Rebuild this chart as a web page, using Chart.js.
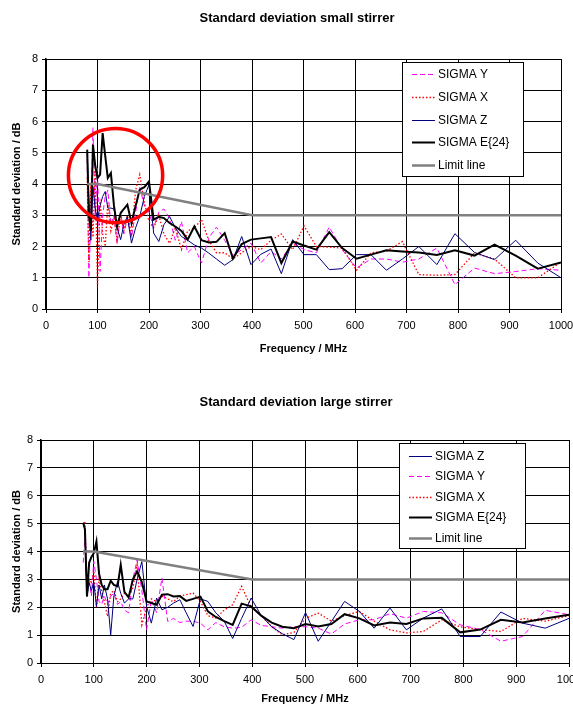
<!DOCTYPE html>
<html><head><meta charset="utf-8">
<script src="https://cdn.jsdelivr.net/npm/chart.js@4.4.0/dist/chart.umd.min.js"></script>
<style>
html,body{margin:0;padding:0;background:#fff;width:573px;height:706px;overflow:hidden;}
.box{position:absolute;left:0;width:573px;}
canvas{display:block;}
</style></head><body>
<div class="box" style="top:0;height:365px"><canvas id="c1" width="573" height="365"></canvas></div>
<div class="box" style="top:365px;height:341px"><canvas id="c2" width="573" height="341"></canvas></div>
<script>
// ---- data ----
const freqMHz = [80,83.2,87.1,91.2,95.5,100,105,110,115,120,126,132,138,145,151,158,166,174,182,191,200,209,219,229,240,251,263,275,288,302,316,331,347,363,380,398,417,437,457,479,501,525,550,575,603,631,661,692,724,759,794,832,871,912,955,1000];

const smallSigmaY = [4.8,1.0,2.8,5.8,3.0, 4.5,1.2,3.0,3.6,3.8, 2.7,3.0,2.1,3.1,2.4, 2.9,2.3,3.1,3.9,3.3, 3.1,2.6,3.1,3.2,2.9, 2.2,2.8,1.8,2.0,1.47, 2.27,2.62,2.2,1.71,1.9, 2.11,1.47,1.84,1.6,2.11, 1.9,1.8,2.62,1.9,1.31, 1.6,1.6,1.5,1.6,1.95, 0.78,1.31,1.13,1.2,1.29, 1.24];
const smallSigmaX = [4.2,1.5,4.0,2.3,4.5, 0.7,3.5,2.4,2.0,3.4, 2.5,2.9,2.2,3.0,2.5, 3.0,2.4,3.8,4.3,3.4, 2.8,2.6,3.0,2.4,2.1, 2.6,1.9,2.5,2.6,2.86, 2.2,1.8,1.8,1.6,1.8, 2.0,1.9,2.2,2.4,1.9, 2.66,2.0,1.98,1.95,1.24, 1.8,1.85,2.16,1.1,1.08, 1.1,1.79,1.6,1.0,1.0, 1.5];
const smallSigmaZ = [5.0,3.5,2.2,3.92,3.2, 2.86,3.3,3.6,3.76,3.23, 3.23,3.2,2.6,2.22,2.7, 2.96,2.11,2.6,2.96,3.6, 3.98,2.43,2.16,2.7,2.96, 2.6,2.32,2.2,2.05,1.95, 1.79,1.6,1.4,1.58,2.32, 1.42,1.75,1.92,1.13,2.22, 1.74,1.74,1.26,1.29,1.74, 1.74,1.24,1.6,2.0,1.42, 2.41,1.81,1.58,2.2,1.47, 1.0];
const smallSigmaE = [5.1,3.0,2.5,5.26,4.6, 4.19,4.3,5.63,4.9,4.19, 4.35,3.3,2.64,3.07,3.2, 3.34,2.75,3.3,3.82,3.9, 4.08,2.86,2.95,2.91,2.75, 2.64,2.5,2.22,2.64,2.2, 2.13,2.15,2.43,1.61,2.08, 2.22,2.26,2.3,1.47,2.16, 2.03,1.9,2.46,1.95,1.61, 1.74,1.88,1.84,1.81,1.73, 1.88,1.71,2.06,1.71,1.29, 1.49];

const largeSigmaZ = [5.0,4.8,2.39,2.87,2.6, 2.9,2.03,2.8,2.3,2.8, 2.3,1.01,2.4,2.92,2.5, 2.15,2.3,2.3,3.0,3.64, 2.03,1.43,2.33,1.91,2.0, 2.15,2.27,1.8,1.31,2.3, 2.21,1.8,1.5,0.88,1.6, 2.33,1.7,1.3,1.05,0.84, 1.81,0.78,1.49,2.21,1.85, 1.25,1.97,1.19,1.61,1.94, 0.95,0.95,1.83,1.43,1.25, 1.6];
const largeSigmaY = [3.6,4.5,2.5,3.0,2.4, 3.64,3.0,2.2,2.1,2.4, 2.1,2.4,2.5,2.1,2.2, 1.9,1.8,3.0,3.7,2.6, 1.19,2.27,1.8,3.05,1.49, 1.6,1.45,1.5,1.5,1.43, 1.19,1.45,1.3,1.25,1.28, 1.55,1.35,1.3,1.25,1.3, 1.3,1.25,1.04,1.4,1.55, 1.55,1.77,1.61,1.85,1.8, 1.37,1.2,0.78,0.95,1.89, 1.73];
const largeSigmaX = [5.0,5.08,2.5,3.0,2.9, 3.3,2.0,3.0,2.6,2.2, 1.67,2.5,2.6,2.2,2.3, 2.5,2.4,2.7,3.52,1.37, 2.0,2.3,2.2,2.4,2.3, 2.2,2.4,2.45,2.51,2.2, 1.7,1.61,1.9,2.09,2.75, 2.0,1.7,1.3,1.01,1.1, 1.6,1.79,1.5,1.7,1.85, 1.5,1.19,1.08,1.13,1.55, 1.3,1.2,1.13,1.6,1.5, 1.7];
const largeSigmaE = [5.02,4.8,2.39,3.6,3.8, 3.94,4.36,3.2,2.8,2.65, 2.65,2.95,2.8,2.75,3.52, 2.55,2.35,3.0,3.28,2.9, 2.21,2.15,2.09,2.45,2.47, 2.39,2.4,2.23,2.3,2.38, 1.85,1.65,1.5,1.37,2.13, 2.03,1.7,1.45,1.3,1.25, 1.4,1.31,1.4,1.75,1.6, 1.35,1.45,1.4,1.6,1.62, 1.1,1.2,1.55,1.45,1.6, 1.73];

const limitFreq = [80,100,400,1000];
const limitValues = [4,4,3,3];

const xTickLabels = [0,100,200,300,400,500,600,700,800,900,1000];
const yTickLabels = [0,1,2,3,4,5,6,7,8];

// ---- styles ----
const FONT = '"Liberation Sans", Arial, sans-serif';
const STY = {
  Y: {label:'SIGMA Y', borderColor:'#FF00FF', borderWidth:1, borderDash:[5,3]},
  X: {label:'SIGMA X', borderColor:'#FF0000', borderWidth:1.3, borderDash:[1.5,2]},
  Z: {label:'SIGMA Z', borderColor:'#000080', borderWidth:1},
  E: {label:'SIGMA E{24}', borderColor:'#000000', borderWidth:2},
  L: {label:'Limit line', borderColor:'#808080', borderWidth:2.5}
};
const ORDER = {L:0, E:1, Z:2, X:3, Y:4};

function series(key, xs, ys){
  return Object.assign({
    data: xs.map((f,i)=>({x:f, y:ys[i]})),
    pointRadius:0, pointHoverRadius:0, tension:0, fill:false,
    order: ORDER[key]
  }, STY[key]);
}

const titlePlugin = {
  id:'plotTitle',
  afterDraw(chart, args, o){
    const ctx = chart.ctx; ctx.save();
    ctx.font = 'bold 13px ' + FONT; ctx.fillStyle = '#000';
    ctx.textAlign = 'center'; ctx.textBaseline = 'middle';
    ctx.fillText(o.text, o.cx, o.cy); ctx.restore();
  }
};
const boxLegend = {
  id:'boxLegend',
  afterDatasetsDraw(chart, args, o){
    const ctx = chart.ctx; ctx.save();
    ctx.fillStyle = '#fff'; ctx.fillRect(o.x, o.y, o.w, o.h);
    ctx.strokeStyle = '#000'; ctx.lineWidth = 1; ctx.setLineDash([]);
    ctx.strokeRect(Math.round(o.x)+0.5, Math.round(o.y)+0.5, o.w, o.h);
    chart.data.datasets.forEach((ds,i)=>{
      const ry = Math.round(o.y + o.first + i*o.row) + 0.5;
      ctx.beginPath(); ctx.setLineDash(ds.borderDash || []);
      ctx.strokeStyle = ds.borderColor; ctx.lineWidth = ds.borderWidth;
      ctx.moveTo(o.x+10, ry); ctx.lineTo(o.x+33, ry); ctx.stroke();
      ctx.setLineDash([]);
      ctx.fillStyle = '#000'; ctx.font = '12px ' + FONT;
      ctx.textAlign = 'left'; ctx.textBaseline = 'middle';
      ctx.fillText(ds.label, o.x+36, ry);
    });
    ctx.restore();
  }
};
const circlePlugin = {
  id:'ring',
  afterDraw(chart, args, o){
    if(!o || !o.on) return;
    const xs = chart.scales.x, ys = chart.scales.y, ctx = chart.ctx;
    const cx = xs.getPixelForValue(o.f), cy = ys.getPixelForValue(o.v);
    const r = xs.getPixelForValue(o.f + o.rMHz) - cx;
    ctx.save(); ctx.beginPath(); ctx.strokeStyle = '#FF0000'; ctx.lineWidth = 3.5;
    ctx.arc(cx, cy, r, 0, Math.PI*2); ctx.stroke(); ctx.restore();
  }
};

function makeChart(id, datasets, cfg){
  return new Chart(document.getElementById(id), {
    type:'line',
    data:{datasets},
    plugins:[boxLegend, titlePlugin, circlePlugin],
    options:{
      responsive:false, animation:false, events:[],
      layout:{padding:cfg.pad},
      plugins:{
        legend:{display:false}, tooltip:{enabled:false},
        plotTitle:cfg.title, boxLegend:cfg.legend, ring:cfg.ring
      },
      scales:{
        x:{
          type:'linear', min:0, max:1000,
          afterBuildTicks(s){ s.ticks = xTickLabels.map(v=>({value:v})); },
          afterFit(s){ s.height = cfg.xH; s.paddingLeft = 0; s.paddingRight = 0; },
          ticks:{color:'#000', font:{family:FONT, size:11}, padding:6, maxRotation:0, autoSkip:false,
                 callback:(v)=>String(v)},
          grid:{color:'#000', lineWidth:1, tickLength:4},
          border:{color:'#000', width:1},
          title:{display:true, text:'Frequency / MHz', color:'#000', font:{family:FONT, size:11, weight:'bold'}, padding:{top:0, bottom:cfg.xTitlePad}}
        },
        y:{
          type:'linear', min:0, max:8,
          afterBuildTicks(s){ s.ticks = yTickLabels.map(v=>({value:v})); },
          afterFit(s){ s.width = cfg.yW; },
          ticks:{color:'#000', font:{family:FONT, size:11}, padding:4, callback:(v)=>String(v)},
          grid:{color:'#000', lineWidth:1, tickLength:4},
          border:{color:'#000', width:1.5},
          title:{display:true, text:'Standard deviation / dB', color:'#000', font:{family:FONT, size:11, weight:'bold'}, padding:{top:10.5, bottom:0}}
        }
      }
    }
  });
}

makeChart('c1', [
  series('Y', freqMHz, smallSigmaY),
  series('X', freqMHz, smallSigmaX),
  series('Z', freqMHz, smallSigmaZ),
  series('E', freqMHz, smallSigmaE),
  series('L', limitFreq, limitValues)
], {
  pad:{left:0, right:12, top:59, bottom:0}, xH:56, yW:46, xTitlePad:9,
  title:{text:'Standard deviation small stirrer', cx:297, cy:18},
  legend:{x:402, y:62, w:121, h:114, first:12, row:22.75},
  ring:{on:true, f:135, v:4.27, rMHz:91.5}
});

makeChart('c2', [
  series('Z', freqMHz, largeSigmaZ),
  series('Y', freqMHz, largeSigmaY),
  series('X', freqMHz, largeSigmaX),
  series('E', freqMHz, largeSigmaE),
  series('L', limitFreq, limitValues)
], {
  pad:{left:0, right:4, top:75, bottom:0}, xH:43, yW:41, xTitlePad:0,
  title:{text:'Standard deviation large stirrer', cx:296, cy:37},
  legend:{x:399, y:78, w:126, h:105, first:12.5, row:20.65},
  ring:{on:false}
});
</script>
</body></html>
